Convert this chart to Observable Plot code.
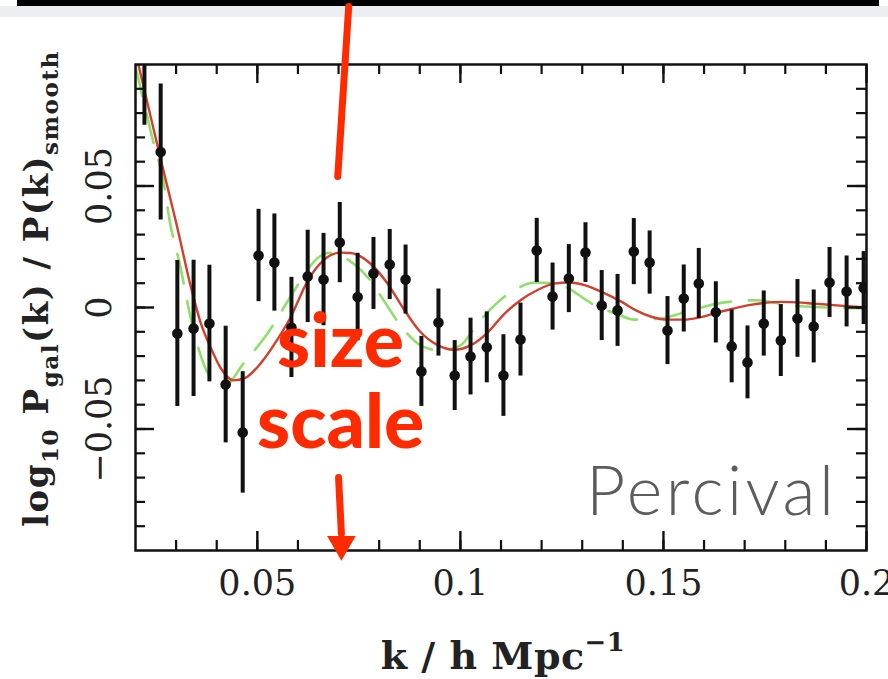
<!DOCTYPE html>
<html><head><meta charset="utf-8">
<script src="https://cdn.jsdelivr.net/npm/d3@7"></script>
<script src="https://cdn.jsdelivr.net/npm/@observablehq/plot@0.6"></script>
<style>
body{margin:0;background:#fff;}
#wrap{position:relative;width:888px;height:679px;overflow:hidden;background:#fff;}
#band{position:absolute;left:0;top:6px;width:888px;height:11px;background:#eceef1;}
#bar{position:absolute;left:17px;top:0;width:862px;height:6px;background:#000;}
#chart{position:absolute;left:0;top:0;}
</style></head><body>
<div id="wrap"><div id="band"></div><div id="bar"></div><div id="chart"></div></div>
<script>
// measured band powers
const kData = [0.0222,0.0262,0.0303,0.0343,0.0382,0.0422,0.0464,0.0503,0.0542,0.0584,0.0624,0.0663,0.0703,0.0747,0.0786,0.0826,0.0865,0.0904,0.0946,0.0986,0.1025,0.1065,0.1106,0.1148,0.1188,0.1227,0.1267,0.1308,0.1348,0.1387,0.1427,0.1466,0.1510,0.1550,0.1587,0.1629,0.1668,0.1707,0.1747,0.1789,0.1830,0.1870,0.1909,0.1951,0.1993];
const ratio = [0.105,0.064,-0.0107,-0.0086,-0.0066,-0.0317,-0.0514,0.0214,0.0185,-0.0082,0.0128,0.0115,0.0267,0.0043,0.0140,0.0177,0.0115,-0.0263,-0.0062,-0.0280,-0.0202,-0.0164,-0.0280,-0.0132,0.0235,0.0045,0.0119,0.0226,0.0008,-0.0012,0.0230,0.0185,-0.0095,0.0037,0.0099,-0.0020,-0.0160,-0.0226,-0.0066,-0.0136,-0.0045,-0.0078,0.0103,0.0066,0.0080];
const errs = [0.030,0.028,0.030,0.028,0.024,0.024,0.025,0.019,0.020,0.0206,0.019,0.019,0.0165,0.018,0.0148,0.0144,0.0142,0.0144,0.0138,0.0144,0.0158,0.0146,0.0168,0.0150,0.0132,0.0138,0.0140,0.0123,0.0144,0.0148,0.0136,0.0130,0.0140,0.0138,0.0144,0.0126,0.0150,0.0150,0.0134,0.0148,0.0160,0.0150,0.0144,0.0146,0.0150];

// best-fit model (red)
const modelK = [0.0207,0.0262,0.0300,0.0340,0.0360,0.0385,0.0410,0.0441,0.0470,0.0508,0.0550,0.0582,0.0624,0.0660,0.0705,0.0730,0.0779,0.0820,0.0860,0.0900,0.0944,0.0983,0.1025,0.1067,0.1106,0.1148,0.1190,0.1230,0.1267,0.1310,0.1353,0.1395,0.1430,0.1470,0.1510,0.1550,0.1590,0.1630,0.1670,0.1710,0.1750,0.1790,0.1830,0.1870,0.1910,0.2000];
const modelV = [0.100,0.061,0.035,0.006,-0.006,-0.0165,-0.025,-0.030,-0.0290,-0.023,-0.013,-0.004,0.011,0.019,0.0226,0.0224,0.018,0.010,-0.0005,-0.0098,-0.0155,-0.0174,-0.0156,-0.0103,-0.0030,0.0030,0.0072,0.0098,0.0103,0.0090,0.0060,0.0025,-0.0010,-0.0038,-0.0050,-0.0050,-0.0040,-0.0022,-0.0005,0.0010,0.0019,0.0023,0.0021,0.0016,0.0011,0.0];

// alternative model (green dashed)
const altK = [0.0200,0.0220,0.0244,0.0267,0.0286,0.0306,0.0348,0.0385,0.0420,0.0466,0.0525,0.0580,0.0610,0.0640,0.0680,0.0737,0.0779,0.0803,0.0865,0.0902,0.0951,0.1000,0.1045,0.1131,0.1185,0.1234,0.1333,0.1394,0.1427,0.1493,0.1567,0.1646,0.1732,0.1813,0.2000];
const altV = [0.099,0.085,0.068,0.0535,0.034,0.020,-0.0128,-0.0288,-0.032,-0.023,-0.0107,0.004,0.012,0.019,0.0225,0.018,0.011,0.005,-0.0100,-0.0156,-0.0177,-0.0156,-0.0060,0.0070,0.0103,0.0099,0.0008,-0.0033,-0.0050,-0.0045,-0.0012,0.0020,0.0030,0.0008,-0.0004];

// ticks
const xTicksMajor = [0.05,0.1,0.15,0.2];
const xTickLabels = ["0.05","0.1","0.15","0.2"];
const xTicksMinor = [0.03,0.04,0.05,0.06,0.07,0.08,0.09,0.1,0.11,0.12,0.13,0.14,0.15,0.16,0.17,0.18,0.19];
const yTicksMajor = [-0.05,0,0.05];
const yTickLabels = ["\u22120.05","0","0.05"];
const yTicksMinor = [-0.09,-0.08,-0.07,-0.06,-0.05,-0.04,-0.03,-0.02,-0.01,0,0.01,0.02,0.03,0.04,0.05,0.06,0.07,0.08,0.09];

// titles
const yTitle = "log10 Pgal(k) / P(k)smooth";
const xTitle = "k / h Mpc-1";
const credit = "Percival";

// annotations (data coordinates)
const arrowTopK = [0.0725,0.0698];
const arrowTopV = [0.1239,0.0539];
const arrowLowK = [0.0700,0.0707];
const arrowLowV = [-0.070,-0.093];
const arrowHeadK = [0.0707];
const arrowHeadV = [-0.0974];
const noteText = ["size","scale"];
const noteK = [0.0705,0.0705];
const noteV = [-0.0245,-0.0580];

const points = kData.map((k,i)=>({k, v: ratio[i], e: errs[i]}));
const model = modelK.map((k,i)=>({k, v: modelV[i]}));
const alt = altK.map((k,i)=>({k, v: altV[i]}));
const arrowTop = arrowTopK.map((k,i)=>({k, v: arrowTopV[i]}));
const arrowLow = arrowLowK.map((k,i)=>({k, v: arrowLowV[i]}));
const arrowHead = arrowHeadK.map((k,i)=>({k, v: arrowHeadV[i]}));
const notes = noteText.map((t,i)=>({t, k: noteK[i], v: noteV[i]}));

const W = 888, H = 679, ML = 135, MR = 22, MT = 64, MB = 129;
const PW = W-ML-MR, PH = H-MT-MB;
const serif = "DejaVu Serif";
const RED = "#ff2a00";
const YT = 34, XT = 38;

const chart = Plot.plot({
  width: W, height: H,
  marginLeft: ML, marginRight: MR, marginTop: MT, marginBottom: MB,
  x: {domain: [0.02, 0.2]},
  y: {domain: [-0.1, 0.1]},
  style: {background: "transparent", overflow: "visible"},
  marks: [
    Plot.line(alt, {x:"k", y:"v", stroke:"#8fe06a", strokeWidth:2.6, strokeDasharray:"30,18", curve:"monotone-x", clip:true}),
    Plot.line(model, {x:"k", y:"v", stroke:"#d43f2c", strokeWidth:2.4, curve:"monotone-x", clip:true}),
    Plot.ruleX(points, {x:"k", y1: d=>d.v-d.e, y2: d=>d.v+d.e, stroke:"#111", strokeWidth:4, clip:true}),
    Plot.dot(points, {x:"k", y:"v", r:5.3, fill:"#111", clip:true}),
    Plot.frame({stroke:"#111", strokeWidth:2.5}),
    // inward ticks on all four sides
    Plot.tickX(xTicksMinor, {x:d=>d, insetTop: PH-10, stroke:"#111", strokeWidth:2.2}),
    Plot.tickX(xTicksMinor, {x:d=>d, insetBottom: PH-10, stroke:"#111", strokeWidth:2.2}),
    Plot.tickX(xTicksMajor, {x:d=>d, insetTop: PH-19, stroke:"#111", strokeWidth:2.4}),
    Plot.tickX(xTicksMajor, {x:d=>d, insetBottom: PH-19, stroke:"#111", strokeWidth:2.4}),
    Plot.tickY(yTicksMinor, {y:d=>d, insetRight: PW-10, stroke:"#111", strokeWidth:2.2}),
    Plot.tickY(yTicksMinor, {y:d=>d, insetLeft: PW-10, stroke:"#111", strokeWidth:2.2}),
    Plot.tickY(yTicksMajor, {y:d=>d, insetRight: PW-19, stroke:"#111", strokeWidth:2.4}),
    Plot.tickY(yTicksMajor, {y:d=>d, insetLeft: PW-19, stroke:"#111", strokeWidth:2.4}),
    Plot.axisX({ticks: xTicksMajor, tickSize:0, tickPadding:20, tickFormat: d=>xTickLabels[xTicksMajor.indexOf(d)], fontSize:35, fontFamily:serif, fill:"#222", label:null}),
    Plot.axisY({ticks: yTicksMajor, tickSize:0, tickPadding:25, tickRotate:-90, tickFormat: d=>yTickLabels[yTicksMajor.indexOf(d)], fontSize:35, fontFamily:serif, fill:"#222", label:null}),
    Plot.text([yTitle], {frameAnchor:"left", rotate:-90, textAnchor:"middle", lineAnchor:"bottom", dx:-88, dy:-19, fontSize:YT, fontWeight:"bold", fontFamily:serif, fill:"#222"}),
    Plot.text([xTitle], {frameAnchor:"bottom", textAnchor:"middle", lineAnchor:"bottom", dx:2, dy:118, fontSize:XT, fontWeight:"bold", fontFamily:serif, fill:"#222"}),
    // annotations
    Plot.line(arrowTop, {x:"k", y:"v", stroke:RED, strokeWidth:7}),
    Plot.line(arrowLow, {x:"k", y:"v", stroke:RED, strokeWidth:7}),
    Plot.dot(arrowHead, {x:"k", y:"v", symbol:"triangle2", r:13.7, rotate:180, fill:RED, stroke:null}),
    Plot.text(notes, {x:"k", y:"v", text:"t", fill:RED, fontSize:75, fontWeight:900, fontFamily:"Lato", lineAnchor:"bottom"}),
    Plot.text([credit], {frameAnchor:"bottom-right", textAnchor:"end", lineAnchor:"bottom", dx:-29, dy:-36, fontSize:68, fontWeight:300, fontFamily:"Lato", fill:"#5c5c5c"})
  ]
});

const NS = "http://www.w3.org/2000/svg";
function findText(content) {
  for (const t of chart.querySelectorAll("text")) if (t.textContent === content) return t;
  return null;
}
function rich(content, parts, base, spacing) {
  const t = findText(content);
  if (!t) return;
  while (t.firstChild) t.removeChild(t.firstChild);
  if (spacing) t.setAttribute("letter-spacing", spacing + "px");
  let cur = 0;
  for (const [s, shift] of parts) {
    const ts = document.createElementNS(NS, "tspan");
    ts.textContent = s;
    const target = shift * base;
    if (target !== cur) ts.setAttribute("dy", (target - cur) + "px");
    cur = target;
    if (shift !== 0) ts.setAttribute("font-size", (base * 0.68) + "px");
    t.appendChild(ts);
  }
}
rich(yTitle, [["log",0],["10",0.32],[" P",0],["gal",0.32],["(k) / P(k)",0],["smooth",0.32]], YT, 1.5);
rich(xTitle, [["k / h Mpc",0],["\u22121",-0.45]], XT, 0.5);
const perc = findText(credit);
if (perc) perc.setAttribute("letter-spacing", "3.5px");

document.getElementById("chart").appendChild(chart);
</script>
</body></html>
